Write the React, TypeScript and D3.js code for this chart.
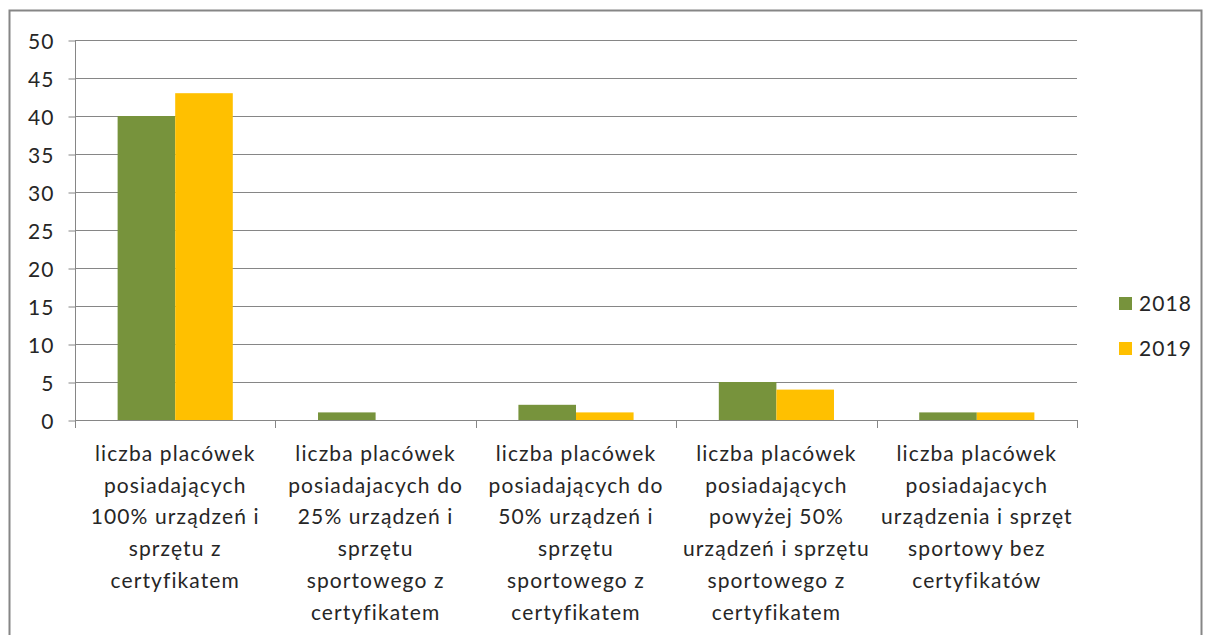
import React, { useEffect, useRef } from 'react';
import * as d3 from 'd3';

// category labels, already broken into lines like in the original chart
const categories = [
    ['liczba placówek', 'posiadających', '100% urządzeń i', 'sprzętu z', 'certyfikatem'],
    ['liczba placówek', 'posiadajacych do', '25% urządzeń i', 'sprzętu', 'sportowego z', 'certyfikatem'],
    ['liczba placówek', 'posiadających do', '50% urządzeń i', 'sprzętu', 'sportowego z', 'certyfikatem'],
    ['liczba placówek', 'posiadających', 'powyżej 50%', 'urządzeń i sprzętu', 'sportowego z', 'certyfikatem'],
    ['liczba placówek', 'posiadajacych', 'urządzenia i sprzęt', 'sportowy bez', 'certyfikatów'],
];
const seriesNames = ['2018', '2019'];
const values2018 = [40, 1, 2, 5, 1];
const values2019 = [43, 0, 1, 4, 1];
const yTicks = [0, 5, 10, 15, 20, 25, 30, 35, 40, 45, 50];
const colors = ['#77933C', '#FFC000'];

const W = 1205;
const H = 635;
const FONT = 'Lato, "Open Sans", sans-serif';
const FS = 21;
const LS = '1.1px';

function App() {
    const ref = useRef<SVGSVGElement>(null);

    useEffect(() => {
        const svg = d3.select(ref.current);
        svg.selectAll('*').remove();

        const left = 75, right = 1077, top = 40, bottom = 420;
        const gridColor = '#868686';
        const textColor = '#262626';

        // outer frame
        svg.append('rect')
            .attr('x', 9.5).attr('y', 10.5)
            .attr('width', 1192).attr('height', 700)
            .attr('fill', 'white')
            .attr('stroke', gridColor)
            .attr('stroke-width', 2);

        const idx = categories.map((_, i) => i);
        const x = d3.scaleBand<number>().domain(idx).range([left, right]).paddingInner(0).paddingOuter(0);
        const xInner = d3.scaleBand<number>().domain([0, 1]).range([0, x.bandwidth()]).paddingInner(0).paddingOuter(0.74);
        const y = d3.scaleLinear().domain([0, 50]).range([bottom, top]);

        // gridlines
        svg.append('g')
            .selectAll('line')
            .data(yTicks.filter(t => t > 0))
            .enter()
            .append('line')
            .attr('x1', left).attr('x2', right)
            .attr('y1', d => Math.round(y(d)) + 0.5)
            .attr('y2', d => Math.round(y(d)) + 0.5)
            .attr('stroke', gridColor)
            .attr('stroke-width', 1);

        // y axis
        const yAxis = svg.append('g')
            .attr('transform', `translate(${left + 0.5},0.5)`)
            .call(d3.axisLeft(y).tickValues(yTicks).tickSize(7).tickPadding(14));
        yAxis.selectAll('line').attr('stroke', gridColor);
        yAxis.select('.domain').attr('stroke', gridColor).attr('d', `M0,${top}V${bottom}`);
        yAxis.selectAll('text')
            .attr('font-family', FONT)
            .attr('font-size', FS)
            .attr('letter-spacing', LS)
            .attr('fill', textColor)
            .attr('dy', '0.36em');

        // bars
        const series = [values2018, values2019];
        series.forEach((vals, s) => {
            svg.append('g')
                .selectAll('rect')
                .data(vals)
                .enter()
                .append('rect')
                .attr('x', (_, i) => (x(i) as number) + (xInner(s) as number))
                .attr('width', xInner.bandwidth())
                .attr('y', d => y(d))
                .attr('height', d => bottom - y(d))
                .attr('fill', colors[s]);
        });

        // x axis
        svg.append('line')
            .attr('x1', left).attr('x2', right)
            .attr('y1', bottom + 0.5).attr('y2', bottom + 0.5)
            .attr('stroke', gridColor);
        const edges = idx.map(i => x(i) as number).concat([right]);
        svg.append('g')
            .selectAll('line')
            .data(edges)
            .enter()
            .append('line')
            .attr('x1', d => Math.round(d) + 0.5).attr('x2', d => Math.round(d) + 0.5)
            .attr('y1', bottom).attr('y2', bottom + 8)
            .attr('stroke', gridColor);

        // category labels
        const labels = svg.append('g');
        categories.forEach((lines, i) => {
            const cx = (x(i) as number) + x.bandwidth() / 2;
            const t = labels.append('text')
                .attr('text-anchor', 'middle')
                .attr('font-family', FONT)
                .attr('font-size', FS)
                .attr('letter-spacing', LS)
                .attr('fill', textColor);
            lines.forEach((ln, j) => {
                t.append('tspan')
                    .attr('x', cx)
                    .attr('y', 461 + j * 31.7)
                    .text(ln);
            });
        });

        // legend
        const legend = svg.append('g');
        seriesNames.forEach((name, i) => {
            const ly = 297 + i * 45;
            legend.append('rect')
                .attr('x', 1119).attr('y', ly)
                .attr('width', 13).attr('height', 13)
                .attr('fill', colors[i]);
            legend.append('text')
                .attr('x', 1139).attr('y', ly + 14)
                .attr('font-family', FONT)
                .attr('font-size', FS)
                .attr('letter-spacing', LS)
                .attr('fill', textColor)
                .text(name);
        });
    }, []);

    return (
        <svg ref={ref} width={W} height={H}
            style={{ position: 'absolute', left: 0, top: 0, background: 'white' }} />
    );
}

export default App;
